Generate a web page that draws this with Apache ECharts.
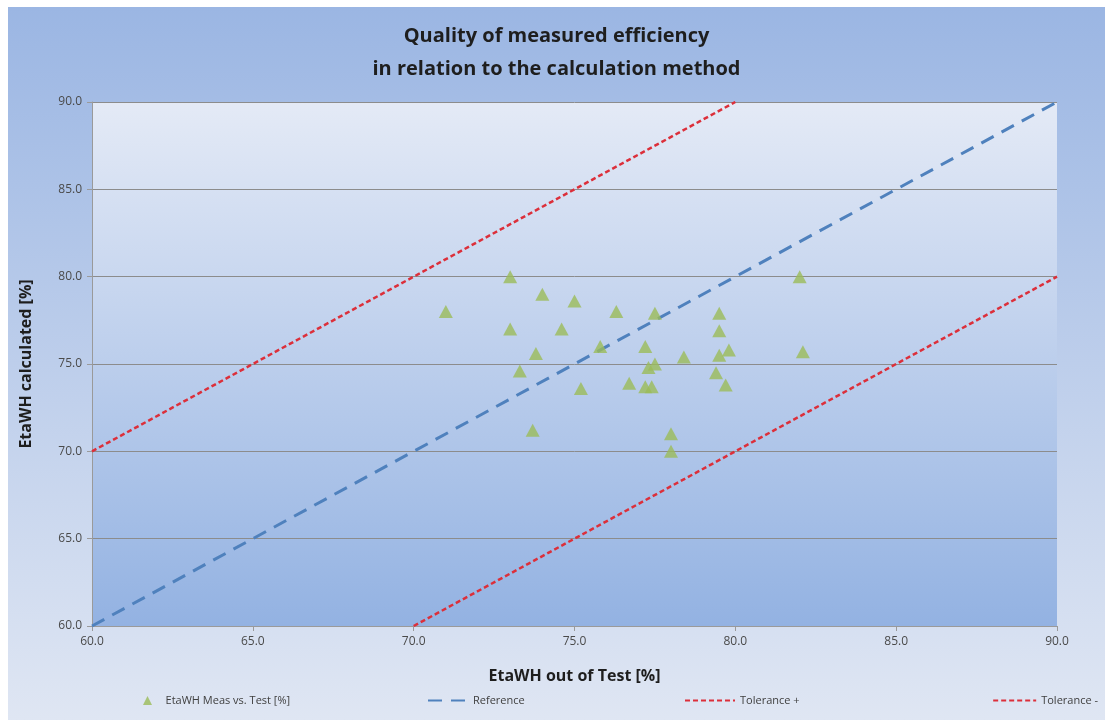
<!DOCTYPE html>
<html>
<head>
<meta charset="utf-8">
<script src="https://cdn.jsdelivr.net/npm/echarts@6/dist/echarts.min.js"></script>
<style>
	html, body { margin: 0; padding: 0; background: #ffffff; }
	#scatterChart { position: absolute; left: 8px; top: 7px; width: 1097px; height: 713px; }
</style>
</head>
<body>
<div id="scatterChart"></div>
<script>
// measured points: x = EtaWH out of Test, y = EtaWH calculated
var measX = [71.0, 73.0, 74.0, 75.0, 76.3, 77.5, 73.0, 74.6, 75.8, 77.2, 73.8, 73.3, 77.3, 77.5,
	76.7, 77.2, 77.4, 75.2, 73.7, 82.0, 79.5, 79.5, 79.8, 79.5, 82.1, 78.4, 79.4, 79.7, 78.0, 78.0];
var measY = [78.0, 80.0, 79.0, 78.6, 78.0, 77.9, 77.0, 77.0, 76.0, 76.0, 75.6, 74.6, 74.8, 75.0,
	73.9, 73.7, 73.7, 73.6, 71.2, 80.0, 77.9, 76.9, 75.8, 75.5, 75.7, 75.4, 74.5, 73.8, 71.0, 70.0];

// reference and tolerance lines (end points)
var refLine = [[60, 60], [90, 90]];
var tolPlus = [[60, 70], [80, 90]];
var tolMinus = [[70, 60], [90, 80]];

var names = ['EtaWH Meas vs. Test [%]', 'Reference', 'Tolerance +', 'Tolerance -'];
var axisMin = 60, axisMax = 90, axisStep = 5;

var myChart = echarts.init(document.getElementById('scatterChart'));

var points = [];
for (var i = 0; i < measX.length; i++) {
	points.push([measX[i], measY[i]]);
}

var fmt = function (v) { return v.toFixed(1); };
var legendText = { fontFamily: 'Open Sans', fontSize: 11, color: '#404040' };
// line legends: no symbol dot on the line icon
var noDot = { opacity: 0 };

var option = {
	backgroundColor: new echarts.graphic.LinearGradient(0, 0, 0, 1, [
		{ offset: 0, color: '#9bb6e3' },
		{ offset: 1, color: '#dfe6f3' }
	]),
	title: {
		text: 'Quality of measured efficiency\nin relation to the calculation method',
		left: 'center',
		top: 8,
		textStyle: { fontFamily: 'Open Sans', fontWeight: 'bold', fontSize: 20, lineHeight: 33, color: '#1e1e1e' }
	},
	legend: [
		{ data: [names[0]], left: 130, top: 683, icon: 'triangle', itemWidth: 9, itemHeight: 9, itemGap: 12, textStyle: legendText,
			itemWidth: 9, formatter: '   {name}' },
		{ data: [{ name: names[1], itemStyle: noDot }], left: 414, top: 683, itemWidth: 40, itemHeight: 10, textStyle: legendText },
		{ data: [{ name: names[2], itemStyle: noDot }], left: 671, top: 683, itemWidth: 50, itemHeight: 10, textStyle: legendText },
		{ data: [{ name: names[3], itemStyle: noDot }], right: 2, top: 683, itemWidth: 43, itemHeight: 10, textStyle: legendText }
	],
	grid: {
		left: 84, right: 48, top: 95, bottom: 94,
		show: true,
		borderWidth: 0,
		backgroundColor: new echarts.graphic.LinearGradient(0, 0, 0, 1, [
			{ offset: 0, color: '#e4eaf6' },
			{ offset: 1, color: '#93b2e2' }
		])
	},
	xAxis: {
		type: 'value', min: axisMin, max: axisMax, interval: axisStep,
		name: 'EtaWH out of Test [%]', nameLocation: 'middle', nameGap: 42,
		nameTextStyle: { fontFamily: 'Open Sans', fontWeight: 'bold', fontSize: 16, color: '#1e1e1e' },
		axisLine: { lineStyle: { color: '#9a9a9a' } },
		axisTick: { show: true, length: 5, lineStyle: { color: '#9a9a9a' } },
		axisLabel: { formatter: fmt, margin: 10, fontFamily: 'Open Sans', fontSize: 12, color: '#4a4a4a' },
		splitLine: { show: false }
	},
	yAxis: {
		type: 'value', min: axisMin, max: axisMax, interval: axisStep,
		name: 'EtaWH calculated [%]', nameLocation: 'middle', nameGap: 58, nameRotate: 90,
		nameTextStyle: { fontFamily: 'Open Sans', fontWeight: 'bold', fontSize: 16, color: '#1e1e1e' },
		axisLine: { show: true, lineStyle: { color: '#9a9a9a' } },
		axisTick: { show: true, length: 5, lineStyle: { color: '#9a9a9a' } },
		axisLabel: { formatter: fmt, margin: 10, fontFamily: 'Open Sans', fontSize: 12, color: '#4a4a4a' },
		splitLine: { show: true, lineStyle: { color: '#8c8c8c', width: 1 } }
	},
	series: [{
		name: names[0],
		type: 'scatter',
		symbol: 'triangle',
		symbolSize: [14, 13],
		itemStyle: { color: '#9bbb59' },
		data: points,
		z: 5
	}, {
		name: names[1],
		type: 'line',
		symbol: 'none',
		lineStyle: { color: '#4f81bd', width: 3, type: [14, 9] },
		itemStyle: { color: '#4f81bd' },
		data: refLine
	}, {
		name: names[2],
		type: 'line',
		symbol: 'none',
		lineStyle: { color: '#dc2f3a', width: 2.5, type: [5, 3] },
		itemStyle: { color: '#dc2f3a' },
		data: tolPlus
	}, {
		name: names[3],
		type: 'line',
		symbol: 'none',
		lineStyle: { color: '#dc2f3a', width: 2.5, type: [5, 3] },
		itemStyle: { color: '#dc2f3a' },
		data: tolMinus
	}]
};

myChart.setOption(option);
</script>
</body>
</html>
